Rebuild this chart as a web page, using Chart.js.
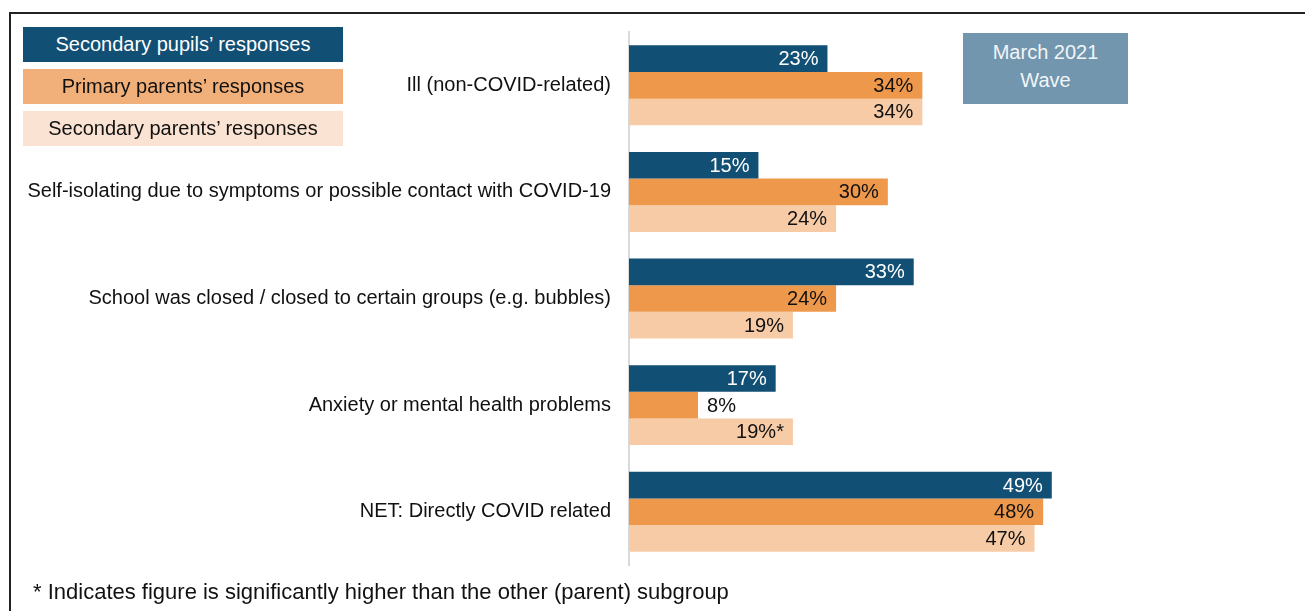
<!DOCTYPE html>
<html>
<head>
<meta charset="utf-8">
<script src="https://cdn.jsdelivr.net/npm/chart.js@4"></script>
<style>
  html, body { margin: 0; padding: 0; background: #fff; }
  body { width: 1305px; height: 611px; position: relative; overflow: hidden; font-family: "Liberation Sans", Arial, sans-serif; }
  #wrap { position: absolute; left: 0; top: 0; width: 1305px; height: 611px; }
  #frame { position: absolute; left: 9px; top: 12px; width: 1300px; height: 620px; border-top: 2px solid #222; border-left: 2px solid #222; box-sizing: border-box; }
  .leg { position: absolute; left: 23px; width: 320px; height: 35px; line-height: 35px; text-align: center; font-size: 20px; }
  #wave { position: absolute; left: 963px; top: 33px; width: 165px; height: 71px; background: #7196AE; color: #F2F5F8; font-size: 20px; text-align: center; line-height: 28px; padding-top: 5px; box-sizing: border-box; }
  #note { position: absolute; left: 33px; top: 579px; font-size: 22px; color: #111; }
</style>
</head>
<body>
<div id="frame"></div>
<div id="wrap"><canvas id="c" width="1305" height="611"></canvas></div>
<div id="legend"></div>
<div id="wave">March 2021<br>Wave</div>
<div id="note">* Indicates figure is significantly higher than the other (parent) subgroup</div>
<script>
const categories = [
  "Ill (non-COVID-related)",
  "Self-isolating due to symptoms or possible contact with COVID-19",
  "School was closed / closed to certain groups (e.g. bubbles)",
  "Anxiety or mental health problems",
  "NET: Directly COVID related"
];
const seriesNames = ["Secondary pupils\u2019 responses", "Primary parents\u2019 responses", "Secondary parents\u2019 responses"];
const secondaryPupils = [23, 15, 33, 17, 49];
const primaryParents = [34, 30, 24, 8, 48];
const secondaryParents = [34, 24, 19, 19, 47];
const secondaryParentsMarks = ["", "", "", "*", ""];
const noMarks = ["", "", "", "", ""];

const barColors = ["#124F75", "#EE984B", "#F7CBA6"];
const legendColors = ["#124F75", "#F1B079", "#FAE3D2"];
const labelColors = ["#FFFFFF", "#111111", "#111111"];
const legendText = ["#FFFFFF", "#111111", "#111111"];

// Legend (HTML)
const legEl = document.getElementById('legend');
seriesNames.forEach((n, i) => {
  const d = document.createElement('div');
  d.className = 'leg';
  d.style.top = (27 + i * 42) + 'px';
  d.style.background = legendColors[i];
  d.style.color = legendText[i];
  d.textContent = n;
  legEl.appendChild(d);
});

const valueLabels = {
  id: 'valueLabels',
  afterDatasetsDraw(chart) {
    const ctx = chart.ctx;
    ctx.save();
    ctx.font = '20px "Liberation Sans", Arial, sans-serif';
    ctx.textBaseline = 'middle';
    chart.data.datasets.forEach((ds, di) => {
      const meta = chart.getDatasetMeta(di);
      meta.data.forEach((el, i) => {
        const txt = ds.data[i] + '%' + ds.marks[i];
        const w = ctx.measureText(txt).width;
        const barW = el.x - el.base;
        if (w + 45 < barW) {
          ctx.textAlign = 'right';
          ctx.fillStyle = labelColors[di];
          ctx.fillText(txt, el.x - 9, el.y + 1);
        } else {
          ctx.textAlign = 'left';
          ctx.fillStyle = '#111111';
          ctx.fillText(txt, el.x + 9, el.y + 1);
        }
      });
    });
    ctx.restore();
  }
};

new Chart(document.getElementById('c'), {
  type: 'bar',
  data: {
    labels: categories,
    datasets: [
      { label: seriesNames[0], data: secondaryPupils, marks: noMarks, backgroundColor: barColors[0] },
      { label: seriesNames[1], data: primaryParents, marks: noMarks, backgroundColor: barColors[1] },
      { label: seriesNames[2], data: secondaryParents, marks: secondaryParentsMarks, backgroundColor: barColors[2] }
    ]
  },
  options: {
    indexAxis: 'y',
    responsive: false,
    animation: false,
    events: [],
    layout: { padding: { left: 0, right: 3, top: 32, bottom: 46 } },
    datasets: { bar: { categoryPercentage: 0.75, barPercentage: 1.0, borderWidth: 0 } },
    plugins: { legend: { display: false }, tooltip: { enabled: false } },
    scales: {
      x: { display: false, min: 0, max: 78 },
      y: {
        afterFit(scale) { scale.width = 629; },
        grid: { display: false, drawTicks: false },
        border: { display: true, color: '#D9D9D9', width: 2 },
        ticks: { color: '#111111', padding: 18, font: { size: 20, family: '"Liberation Sans", Arial, sans-serif' } }
      }
    }
  },
  plugins: [valueLabels]
});
</script>
</body>
</html>
